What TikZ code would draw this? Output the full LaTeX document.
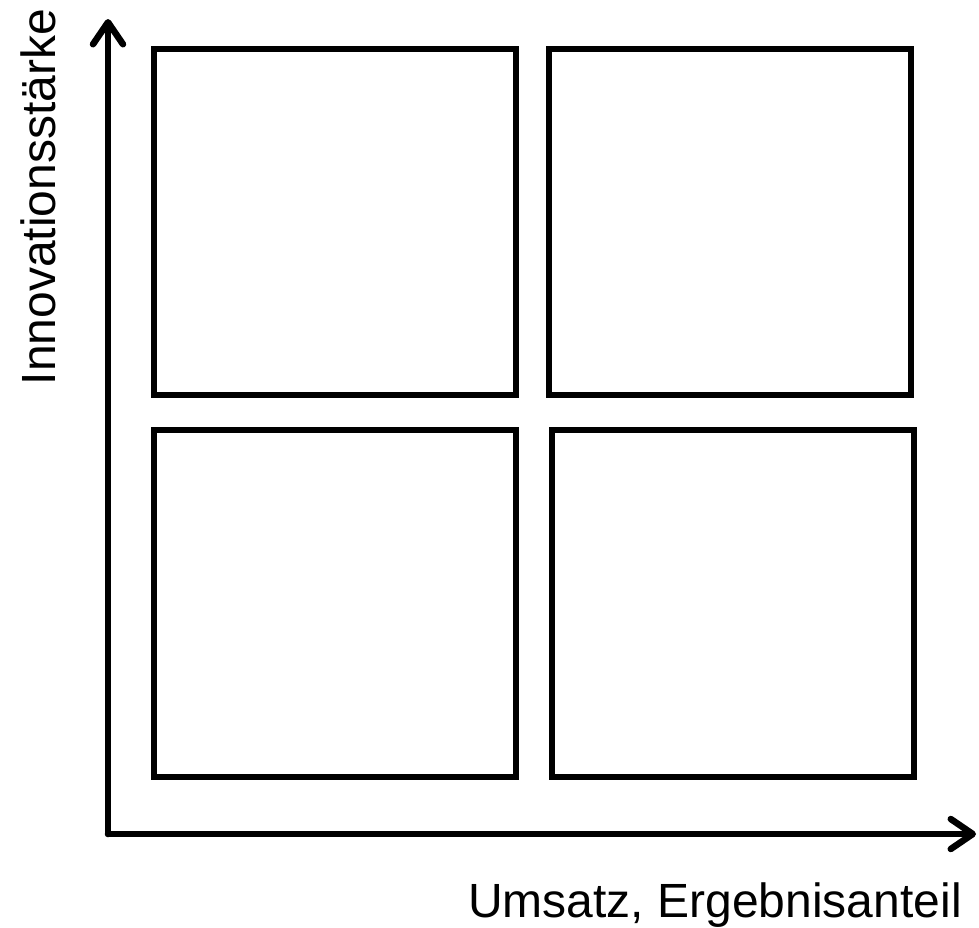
\documentclass[tikz,border=0pt]{standalone}
\usepackage{fontspec}
\setmainfont{Liberation Sans}
\usetikzlibrary{arrows.meta}
\begin{document}
\begin{tikzpicture}[x=1pt,y=-1pt,
  quad/.style={draw=black,line width=6pt,inner sep=0pt,minimum width=362pt,minimum height=346pt},
  axis/.style={line width=6.5pt,line cap=round,-{Straight Barb[length=22pt,width=30pt,line width=6.5pt,round]}},
  lbl/.style={inner sep=0pt,font=\fontsize{48}{58}\selectfont}]
\useasboundingbox (0,0) rectangle (979,927);
\node[quad] (tl) at (335,222) {};
\node[quad] (tr) at (730,222) {};
\node[quad,minimum height=347pt] (bl) at (335,603.5) {};
\node[quad,minimum height=347pt] (br) at (732.5,603.5) {};
\coordinate (o) at (108,834);
\coordinate (ytip) at (108,19);
\coordinate (xtip) at (976,834);
\draw[axis] (o) -- (ytip);
\draw[axis] (o) -- (xtip);
\node[lbl,rotate=90,anchor=base] (ylab) at (55,197) {Innovationsstärke};
\node[lbl,anchor=base] (xlab) at (715,917) {Umsatz, Ergebnisanteil};
\end{tikzpicture}
\end{document}
